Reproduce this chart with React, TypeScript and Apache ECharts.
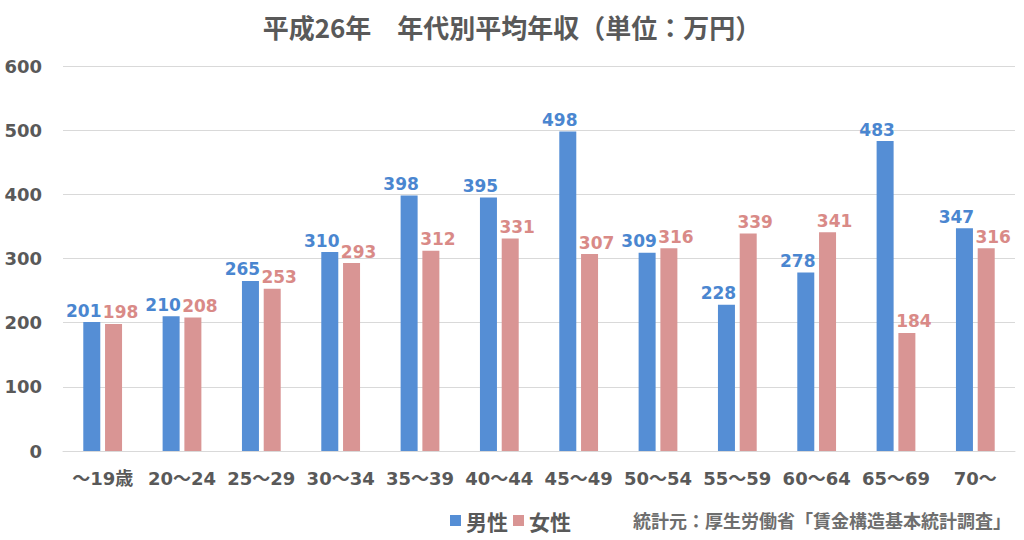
import React, { useEffect, useRef } from "react";
import * as echarts from "echarts";

const categories = ["～19歳", "20～24", "25～29", "30～34", "35～39", "40～44", "45～49", "50～54", "55～59", "60～64", "65～69", "70～"];
const maleValues = [201, 210, 265, 310, 398, 395, 498, 309, 228, 278, 483, 347];
const femaleValues = [198, 208, 253, 293, 312, 331, 307, 316, 339, 341, 184, 316];
const yTicks = [0, 100, 200, 300, 400, 500, 600];

const FONT = "'Noto Sans CJK JP', 'Noto Sans', sans-serif";
const NUMFONT = "'DejaVu Sans', 'Noto Sans CJK JP', sans-serif";
const BLUE = "#558ed5";
const PINK = "#d99594";
const GRAY = "#595959";

export default function App() {
  const ref = useRef<HTMLDivElement>(null);
  useEffect(() => {
    if (!ref.current) return;
    const chart = echarts.init(ref.current, undefined, { renderer: "svg" });
    chart.setOption({
      animation: false,
      backgroundColor: "#ffffff",
      title: [
        {
          text: "平成26年　年代別平均年収（単位：万円）",
          left: "center",
          top: 8,
          textStyle: { fontFamily: FONT, fontSize: 26, fontWeight: "bold", color: GRAY },
        },
        {
          text: "統計元：厚生労働省「賃金構造基本統計調査」",
          left: 628,
          top: 506,
          textStyle: { fontFamily: FONT, fontSize: 18, fontWeight: "bold", color: "#6e6e6e" },
        },
      ],
      legend: {
        left: 445,
        top: 505,
        itemWidth: 11,
        itemHeight: 11,
        itemGap: 5,
        icon: "rect",
        textStyle: { fontFamily: FONT, fontSize: 21, fontWeight: "bold", color: GRAY },
        data: ["男性", "女性"],
      },
      grid: { left: 63, right: 9, top: 66, bottom: 89 },
      xAxis: {
        type: "category",
        data: categories,
        axisTick: { show: false },
        axisLine: { lineStyle: { color: "#d9d9d9" } },
        axisLabel: { interval: 0, fontFamily: NUMFONT, fontSize: 18, fontWeight: "bold", color: GRAY, margin: 18 },
      },
      yAxis: {
        type: "value",
        min: yTicks[0],
        max: yTicks[yTicks.length - 1],
        interval: 100,
        axisLabel: { fontFamily: NUMFONT, fontSize: 18, fontWeight: "bold", color: GRAY, margin: 21 },
        splitLine: { lineStyle: { color: "#d9d9d9" } },
        axisLine: { show: false },
        axisTick: { show: false },
      },
      series: [
        {
          name: "男性",
          type: "bar",
          data: maleValues,
          barWidth: 17,
          barGap: "28%",
          itemStyle: { color: BLUE },
          label: { show: true, position: "top", distance: 3, offset: [-8, 0], fontFamily: NUMFONT, fontSize: 17, fontWeight: "bold", color: "#4a86d0" },
        },
        {
          name: "女性",
          type: "bar",
          data: femaleValues,
          barWidth: 17,
          itemStyle: { color: PINK },
          label: { show: true, position: "top", distance: 3, offset: [7, 0], fontFamily: NUMFONT, fontSize: 17, fontWeight: "bold", color: "#d98a87" },
        },
      ],
    });
    return () => chart.dispose();
  }, []);
  return <div ref={ref} style={{ width: 1024, height: 540, position: "absolute", left: 0, top: 0 }} />;
}
